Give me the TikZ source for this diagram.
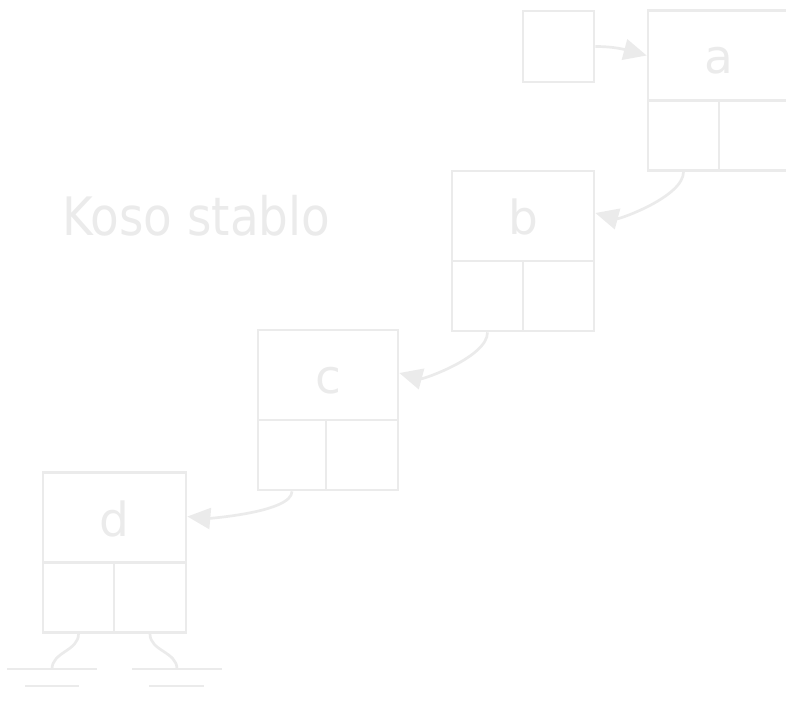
\documentclass[tikz,border=0pt]{standalone}
\usepackage{fontspec}
\setmainfont{DejaVu Sans}
\usetikzlibrary{arrows.meta}
\definecolor{lg}{RGB}{235,235,235}
\tikzset{
  ln/.style={draw=lg, line width=2.7pt},
  topbox/.style={ln, rectangle, minimum width=142pt, minimum height=90pt, inner sep=0pt,
     text=lg, font=\fontsize{47}{50}\selectfont, text height=37pt, text depth=0pt},
  cellbox/.style={ln, rectangle, minimum width=71pt, minimum height=70pt, inner sep=0pt},
  smallbox/.style={ln, rectangle, minimum width=71pt, minimum height=71pt, inner sep=0pt},
  link/.style={ln, -{Triangle[length=23pt,width=21pt]}},
  gnd/.style={ln},
}
\begin{document}
\begin{tikzpicture}[x=1pt,y=-1pt]
\useasboundingbox (0,0) rectangle (786,703);
% small root box
\node[smallbox] (r) at (558.5,46.5) {};
% a
\node[topbox] (a) at (719,55.5) {a};
\node[cellbox] (aL) at (683.5,135.5) {};
\node[cellbox] (aR) at (754.5,135.5) {};
% b
\node[topbox] (b) at (523,216) {b};
\node[cellbox] (bL) at (487.5,296) {};
\node[cellbox] (bR) at (558.5,296) {};
% c
\node[topbox, minimum width=140pt] (c) at (328,375) {c};
\node[cellbox, minimum width=68pt] (cL) at (292,455) {};
\node[cellbox, minimum width=72pt] (cR) at (362,455) {};
% d
\node[topbox, minimum width=143pt] (d) at (114.5,517.5) {d};
\node[cellbox] (dL) at (78.5,597.5) {};
\node[cellbox, minimum width=72pt] (dR) at (150,597.5) {};
% title
\node[anchor=base west, inner sep=0pt, text=lg, font=\fontsize{53}{56}\selectfont] (t) at (62,236) {\scalebox{0.885}[1]{Koso stablo}};
% links
\draw[link] (r.east) to[out=0,in=165] (a.west);
\draw[link] (aL.south) to[out=-90,in=-15,looseness=0.65] ([yshift=3pt]b.east);
\draw[link] (bL.south) to[out=-90,in=-15,looseness=0.65] ([yshift=2pt]c.east);
\draw[link] (cL.south) to[out=-90,in=-5,looseness=0.5] ([yshift=1pt]d.east);
% grounds
\coordinate (g1) at (52,669);
\coordinate (g1a) at (7,669);
\coordinate (g1b) at (97,669);
\coordinate (g1c) at (25,686);
\coordinate (g1d) at (79,686);
\coordinate (g2) at (177,669);
\coordinate (g2a) at (132,669);
\coordinate (g2b) at (222,669);
\coordinate (g2c) at (149,686);
\coordinate (g2d) at (204,686);
\draw[gnd] (dL.south) to[out=-90,in=90] (g1);
\draw[gnd] (g1a) -- (g1b);
\draw[gnd] (g1c) -- (g1d);
\draw[gnd] (dR.south) to[out=-90,in=90] (g2);
\draw[gnd] (g2a) -- (g2b);
\draw[gnd] (g2c) -- (g2d);
\end{tikzpicture}
\end{document}
